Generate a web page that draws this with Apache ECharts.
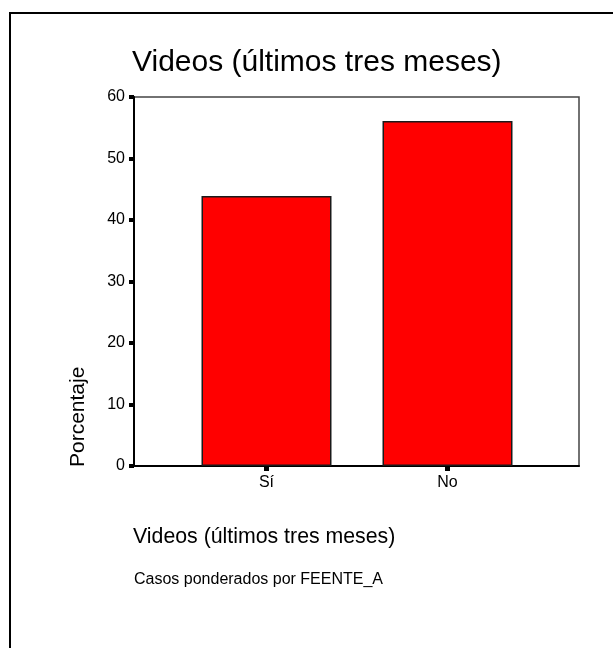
<!DOCTYPE html>
<html>
<head>
<meta charset="utf-8">
<title>Videos (últimos tres meses)</title>
<script src="https://cdn.jsdelivr.net/npm/echarts@6.0.0/dist/echarts.min.js"></script>
<style>
  body { margin: 0; background: #fff; }
  #main { width: 613px; height: 648px; }
</style>
</head>
<body>
<div id="main"></div>
<script>
var categories = ['Sí', 'No'];
var porcentaje = [43.9, 56.1];
var yTicks = [0, 10, 20, 30, 40, 50, 60];

var titulo = 'Videos (últimos tres meses)';
var nota = 'Casos ponderados por FEENTE_A';
var fuente = 'Liberation Sans, Arial, sans-serif';

var chartDom = document.getElementById('main');
var myChart = echarts.init(chartDom);

myChart.setOption({
  backgroundColor: '#fff',
  animation: false,
  title: {
    text: titulo,
    left: 132,
    top: 48,
    padding: 0,
    textStyle: { fontFamily: fuente, fontSize: 30, fontWeight: 'normal', color: '#000' }
  },
  grid: [
    // marco del grafico
    { left: 134, right: 34, top: 97, bottom: 182, show: true, borderColor: '#444', borderWidth: 1.5, backgroundColor: 'transparent' },
    // zona de las barras
    { left: 176, width: 362, top: 97, bottom: 182 }
  ],
  xAxis: [
    {
      gridIndex: 0, type: 'category', data: [''],
      axisLine: { show: true, lineStyle: { color: '#000', width: 2 } },
      axisTick: { show: false }, axisLabel: { show: false }, splitLine: { show: false }
    },
    {
      gridIndex: 1, type: 'category', data: categories,
      axisLine: { show: true, lineStyle: { color: '#000', width: 2 } },
      axisTick: { show: true, alignWithLabel: true, length: 5, lineStyle: { color: '#000', width: 5 } },
      axisLabel: { margin: 9, fontFamily: fuente, fontSize: 16, color: '#000' },
      splitLine: { show: false }
    }
  ],
  yAxis: [
    {
      gridIndex: 0, type: 'value',
      min: yTicks[0], max: yTicks[yTicks.length - 1], interval: 10,
      axisLine: { show: true, lineStyle: { color: '#000', width: 2 } },
      axisTick: { show: true, length: 5, lineStyle: { color: '#000', width: 4 } },
      axisLabel: { margin: 9, fontFamily: fuente, fontSize: 16, color: '#000' },
      splitLine: { show: false }
    },
    {
      gridIndex: 1, type: 'value',
      min: yTicks[0], max: yTicks[yTicks.length - 1],
      show: false
    }
  ],
  series: [
    {
      type: 'bar',
      xAxisIndex: 1,
      yAxisIndex: 1,
      data: porcentaje,
      barWidth: 130,
      itemStyle: { color: '#ff0000', borderColor: '#1a1a1a', borderWidth: 1.5 }
    }
  ],
  graphic: [
    {
      type: 'rect',
      shape: { x: 10, y: 13, width: 1000, height: 1000 },
      style: { fill: 'transparent', stroke: '#000', lineWidth: 2 },
      silent: true
    },
    {
      type: 'text',
      x: 78, y: 467,
      rotation: Math.PI / 2,
      style: { text: 'Porcentaje', font: '21px ' + fuente, fill: '#000', textAlign: 'left', textVerticalAlign: 'middle' }
    },
    {
      type: 'text',
      x: 133, y: 537,
      style: { text: titulo, font: '21.3px ' + fuente, fill: '#000', textAlign: 'left', textVerticalAlign: 'middle' }
    },
    {
      type: 'text',
      x: 134, y: 580,
      style: { text: nota, font: '16px ' + fuente, fill: '#000', textAlign: 'left', textVerticalAlign: 'middle' }
    }
  ]
});

window.onresize = function () { myChart.resize(); };
</script>
</body>
</html>
